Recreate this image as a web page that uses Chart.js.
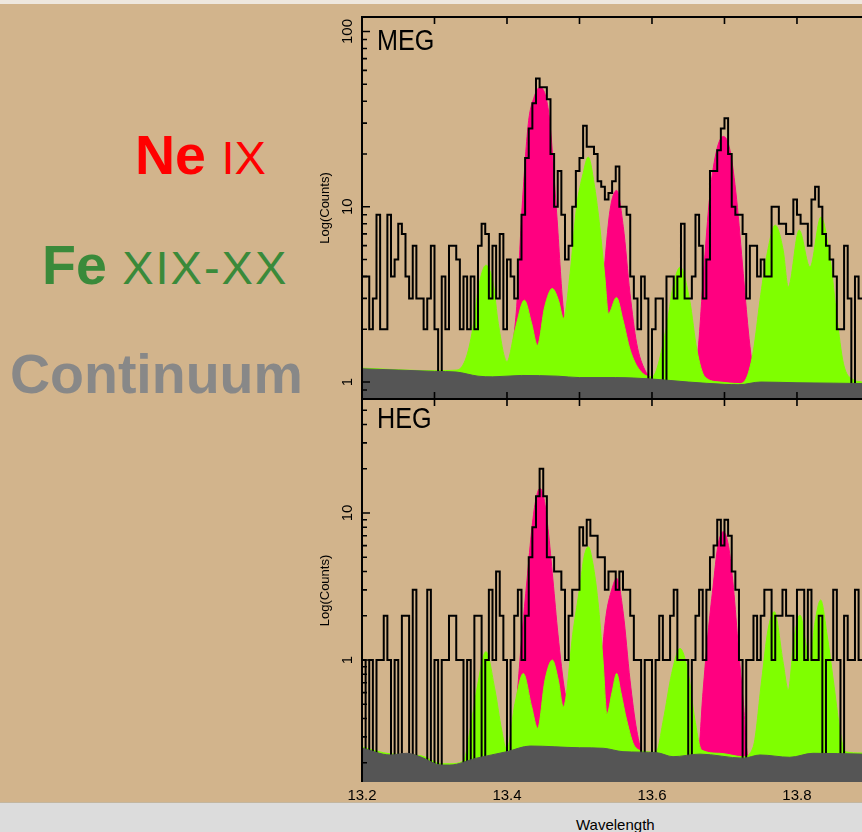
<!DOCTYPE html>
<html>
<head>
<meta charset="utf-8">
<script src="https://cdn.jsdelivr.net/npm/chart.js@4/dist/chart.umd.min.js"></script>
<style>
html, body { margin: 0; padding: 0; }
body { width: 862px; height: 832px; position: relative; overflow: hidden; background: #d2b48c; font-family: "Liberation Sans", Arial, sans-serif; }
#topline { position: absolute; left: 0; top: 0; width: 862px; height: 4px; background: #eee7de; }
canvas { position: absolute; }
#meg { left: 300px; top: 0; }
#heg { left: 300px; top: 395px; }
.panel { position: absolute; font-size: 30px; line-height: 1; color: #000; transform: scaleX(0.84); transform-origin: left top; }
.ion { position: absolute; white-space: nowrap; font-size: 55.5px; line-height: 1; }
.ion b { font-weight: bold; }
.ion span { font-size: 47px; font-weight: normal; }
#strip { position: absolute; left: 0; top: 802px; width: 862px; height: 30px; background: #dcdcdc; border-top: 1px solid #c3b69f; }
#xtitle { position: absolute; left: 576px; top: 817px; font-size: 15px; line-height: 1; color: #000; }
</style>
</head>
<body>
<div id="topline"></div>
<canvas id="meg" width="562" height="402"></canvas>
<canvas id="heg" width="562" height="408"></canvas>
<div class="panel" style="left:377px; top:25px;">MEG</div>
<div class="panel" style="left:377px; top:403px;">HEG</div>
<div class="ion" style="left:135px; top:128px; color:#ff0000;"><b>Ne</b> <span>IX</span></div>
<div class="ion" style="left:42px; top:238px; color:#3a8a3a;"><b>Fe</b> <span style="letter-spacing:2px;">XIX-XX</span></div>
<div class="ion" style="left:10px; top:347px; color:#888888;"><b>Continuum</b></div>
<div id="strip"></div>
<div id="xtitle">Wavelength</div>
<script>
// Binned counts, 0.005 A bins starting at 13.2 A
const binStart = 13.2;
const binWidth = 0.005;
const megCounts = [4,4,2,3,9,2,2,9,4,5,
  8,7,4,3,6,3,3,2,3,6,
  2,0,4,2,6,6,5,2,4,2,
  4,2,6,8,7,3,6,3,7,2,
  5,4,3,5,9,19,28,39,54,48,
  48,41,20,10,16,9,5,6,10,16,
  19,29,22,22,20,14,13,11,12,14,
  17,10,10,9,4,3,2,4,3,0,
  2,3,3,0,4,4,3,4,8,3,
  3,4,9,6,3,5,16,16,21,28,
  32,20,10,9,9,7,3,6,6,4,
  5,4,4,10,10,8,8,7,7,11,
  9,8,8,6,11,13,10,7,6,5,
  4,2,2,6,3,0,4,3,3];
const hegCounts = [1,0,1,0,1,1,2,1,0,1,
  0,2,2,0,3,0,0,0,3,0,
  1,0,1,1,2,2,1,1,0,1,
  0,2,2,0,1,3,1,4,2,1,
  0,1,2,3,1,2,5,8,13,20,
  13,5,5,4,4,3,1,2,3,3,
  8,6,9,7,7,5,5,3,4,4,
  3,4,3,3,2,1,1,0,1,1,
  0,1,2,1,1,2,3,1,1,1,
  0,1,2,3,1,3,5,6,9,6,
  9,7,4,3,1,0,1,1,2,1,
  2,3,3,1,2,2,3,2,2,1,
  3,3,1,3,1,1,2,0,1,1,
  3,1,0,2,1,1,3,1,1];

// MEG model components
const megContWl = [13.2, 13.25, 13.3, 13.33, 13.36, 13.38, 13.42, 13.47, 13.5, 13.55, 13.6, 13.65, 13.7, 13.72, 13.75, 13.8, 13.85, 13.89];
const megCont   = [1.19, 1.17, 1.15, 1.14, 1.08, 1.07, 1.09, 1.08, 1.06, 1.06, 1.04, 1.0, 0.97, 0.965, 1.0, 0.99, 0.985, 0.98];
const megFeWl = [13.2, 13.3, 13.331, 13.344, 13.354, 13.36, 13.371, 13.381, 13.388, 13.40, 13.411, 13.424, 13.434, 13.442, 13.452, 13.4625, 13.471, 13.478, 13.487, 13.496, 13.505, 13.512, 13.521, 13.528, 13.535, 13.540, 13.551, 13.560, 13.570, 13.583, 13.60, 13.620, 13.629, 13.639, 13.652, 13.662, 13.673, 13.694, 13.721, 13.731, 13.740, 13.749, 13.758, 13.770, 13.781, 13.788, 13.803, 13.818, 13.833, 13.846, 13.855, 13.864, 13.878, 13.89];
const megFe   = [1.2, 1.16, 1.17, 1.39, 2.16, 3.34, 4.64, 3.65, 2.16, 1.31, 1.98, 2.93, 2.16, 1.62, 2.69, 3.42, 2.93, 2.31, 4.16, 9.97, 15.5, 19.2, 12.9, 7.69, 3.98, 2.46, 3.04, 2.26, 1.52, 1.17, 1.07, 2.07, 3.49, 4.53, 2.93, 1.52, 1.07, 1.0, 0.98, 1.07, 1.52, 2.93, 5.18, 7.85, 5.65, 3.49, 7.36, 4.53, 8.74, 4.95, 2.36, 1.28, 1.03, 1.0];
const megNeWl = [13.2, 13.397, 13.404, 13.4134, 13.4203, 13.4294, 13.4372, 13.4455, 13.4538, 13.4593, 13.4686, 13.4777, 13.4869, 13.5076, 13.5214, 13.5283, 13.5352, 13.5421, 13.5513, 13.5604, 13.5697, 13.5789, 13.5903, 13.6041, 13.6524, 13.6634, 13.6708, 13.68, 13.6892, 13.6984, 13.7076, 13.7168, 13.7259, 13.7328, 13.7375, 13.7434, 13.89];
const megNe   = [0.95, 0.95, 1.3, 2.69, 9.1, 29.8, 42, 48, 42, 29.8, 9.1, 2.6, 1.6, 1.3, 1.5, 2.2, 4.95, 9.55, 12.4, 7.7, 3.2, 1.66, 1.17, 1.02, 0.95, 1.5, 3.98, 11.9, 21, 25.2, 21, 11.0, 4.16, 1.98, 1.33, 0.95, 0.93];

// HEG model components
const hegContWl = [13.2, 13.239, 13.262, 13.28, 13.31, 13.321, 13.358, 13.40, 13.432, 13.50, 13.533, 13.56, 13.607, 13.629, 13.666, 13.726, 13.749, 13.79, 13.822, 13.89];
const hegCont   = [0.252, 0.226, 0.232, 0.220, 0.193, 0.193, 0.215, 0.238, 0.26, 0.253, 0.251, 0.238, 0.234, 0.22, 0.229, 0.215, 0.226, 0.218, 0.232, 0.229];
const hegFeWl = [13.2, 13.239, 13.28, 13.31, 13.321, 13.3397, 13.349, 13.3582, 13.371, 13.3834, 13.3927, 13.3996, 13.411, 13.4225, 13.4341, 13.4423, 13.4524, 13.4625, 13.4708, 13.4777, 13.4914, 13.5007, 13.5062, 13.5121, 13.5186, 13.5255, 13.5324, 13.5379, 13.5448, 13.5513, 13.5572, 13.5651, 13.5766, 13.5927, 13.6055, 13.6156, 13.6272, 13.6386, 13.6501, 13.6593, 13.6686, 13.6938, 13.7255, 13.7397, 13.7513, 13.76, 13.7687, 13.7811, 13.788, 13.7959, 13.8041, 13.8179, 13.8248, 13.8327, 13.8414, 13.8501, 13.8593, 13.8662, 13.89];
const hegFe   = [0.256, 0.23, 0.224, 0.197, 0.197, 0.205, 0.334, 0.625, 1.14, 0.625, 0.334, 0.244, 0.507, 0.81, 0.48, 0.343, 0.73, 1.0, 0.73, 0.48, 1.6, 3.2, 5.0, 5.9, 4.5, 2.5, 1.0, 0.43, 0.6, 0.81, 0.6, 0.39, 0.257, 0.238, 0.236, 0.39, 0.81, 1.20, 0.81, 0.39, 0.244, 0.232, 0.22, 0.257, 0.73, 1.6, 2.13, 0.95, 0.625, 1.4, 2.02, 1.0, 1.8, 2.56, 1.5, 0.73, 0.334, 0.238, 0.233];
const hegNeWl = [13.2, 13.397, 13.411, 13.4207, 13.4276, 13.4345, 13.44, 13.4455, 13.451, 13.4566, 13.4634, 13.4703, 13.48, 13.4938, 13.5145, 13.5283, 13.5366, 13.5444, 13.5513, 13.5604, 13.5697, 13.5789, 13.588, 13.6386, 13.6634, 13.6703, 13.6772, 13.6841, 13.691, 13.6984, 13.7055, 13.7124, 13.7193, 13.7262, 13.7324, 13.89];
const hegNe   = [0.18, 0.2, 0.4, 1.5, 3.5, 8, 12.5, 14.7, 12.5, 7.85, 3.5, 1.5, 0.6, 0.35, 0.3, 0.8, 2.0, 3.0, 3.6, 2.08, 0.73, 0.334, 0.23, 0.2, 0.22, 0.6, 1.5, 3.1, 6.0, 7.46, 6.0, 3.1, 1.2, 0.5, 0.22, 0.2];

// axes
const xMin = 13.2, xMax = 13.8897;
const xLabels = [13.2, 13.4, 13.6, 13.8];
const xMarks = [13.3, 13.4, 13.5, 13.6, 13.7, 13.8];
const megLabels = [1, 10, 100];
const hegLabels = [1, 10];
const megRange = [0.8, 121];
const hegRange = [0.148, 59.6];

const COL_NE = '#ff0080', COL_FE = '#7fff00', COL_CONT = '#555555';

Chart.defaults.font.family = '"Liberation Sans", Arial, sans-serif';
Chart.defaults.color = '#000';

const zip = (xs, ys) => xs.map((x, i) => ({x: x, y: ys[i]}));
// zero-count bins drop below the axis (log scale cannot show 0)
const steps = counts => {
  const pts = counts.map((c, i) => ({x: binStart + binWidth * i, y: c > 0 ? c : 0.01}));
  const last = counts[counts.length - 1];
  pts.push({x: binStart + binWidth * counts.length, y: last > 0 ? last : 0.01});
  return pts;
};
const yMarks = [0.1, 1, 10, 100].flatMap(d => [1,2,3,4,5,6,7,8,9].map(m => +(d * m).toPrecision(3)));

const framePlugin = {
  id: 'frame',
  afterDatasetsDraw(chart, args, opts) {
    const {ctx, chartArea: a, scales: {x, y}} = chart;
    ctx.save();
    ctx.strokeStyle = '#000';
    ctx.lineWidth = 2;
    ctx.beginPath();
    ctx.moveTo(a.left, a.bottom);
    ctx.lineTo(a.left, a.top);
    ctx.lineTo(a.right + 2, a.top);
    if (opts.bottomLine) {
      ctx.moveTo(a.left, a.bottom);
      ctx.lineTo(a.right + 2, a.bottom);
    }
    ctx.stroke();
    ctx.lineWidth = 1.6;
    ctx.beginPath();
    yMarks.forEach(v => {
      const py = y.getPixelForValue(v);
      if (py < a.top + 1 || py > a.bottom - 1) return;
      const len = opts.majors.includes(v) ? 8 : 5;
      ctx.moveTo(a.left, py);
      ctx.lineTo(a.left + len, py);
    });
    xMarks.forEach(t => {
      const px = x.getPixelForValue(t);
      ctx.moveTo(px, a.top);
      ctx.lineTo(px, a.top + 7);
      if (opts.bottomLine) {
        ctx.moveTo(px, a.bottom);
        ctx.lineTo(px, a.bottom - 7);
      }
    });
    ctx.stroke();
    ctx.restore();
  }
};

function datasets(counts, neWl, ne, feWl, fe, contWl, cont) {
  const area = (data, color, order) => ({
    data: data, order: order, borderColor: color, backgroundColor: color,
    borderWidth: 1, pointRadius: 0, fill: 'start', cubicInterpolationMode: 'monotone'
  });
  return [
    area(zip(neWl, ne), COL_NE, 4),
    area(zip(feWl, fe), COL_FE, 3),
    { data: steps(counts), order: 2, stepped: true, borderColor: '#000', borderWidth: 2,
      pointRadius: 0, fill: false, borderJoinStyle: 'miter' },
    area(zip(contWl, cont), COL_CONT, 1)
  ];
}

function yAxis(range, labels, pad) {
  return {
    type: 'logarithmic', min: range[0], max: range[1],
    afterBuildTicks: s => { s.ticks = labels.map(v => ({value: v})); },
    afterFit: s => { s.width = 62; s.paddingTop = 0; s.paddingBottom = 0; },
    grid: { display: false, drawTicks: false },
    border: { display: false },
    ticks: { callback: v => String(v), minRotation: 90, maxRotation: 90, crossAlign: 'center',
             padding: pad, font: { size: 15 }, color: '#000' },
    title: { display: true, text: 'Log(Counts)', font: { size: 13 }, color: '#000', padding: { top: 18, bottom: 0 } }
  };
}

const megChart = new Chart(document.getElementById('meg').getContext('2d'), {
  type: 'line',
  data: { datasets: datasets(megCounts, megNeWl, megNe, megFeWl, megFe, megContWl, megCont) },
  options: {
    responsive: false, animation: false, devicePixelRatio: 1,
    layout: { padding: { top: 17, bottom: 3, left: 0, right: 0 } },
    scales: {
      x: { type: 'linear', min: xMin, max: xMax, display: false },
      y: yAxis(megRange, megLabels, 1.2)
    },
    plugins: { legend: { display: false }, tooltip: { enabled: false },
               frame: { bottomLine: true, majors: megLabels } }
  },
  plugins: [framePlugin]
});

const hegChart = new Chart(document.getElementById('heg').getContext('2d'), {
  type: 'line',
  data: { datasets: datasets(hegCounts, hegNeWl, hegNe, hegFeWl, hegFe, hegContWl, hegCont) },
  options: {
    responsive: false, animation: false, devicePixelRatio: 1,
    layout: { padding: { top: 4, bottom: 0, left: 0, right: 0 } },
    scales: {
      x: {
        type: 'linear', min: xMin, max: xMax,
        afterBuildTicks: s => { s.ticks = xLabels.map(v => ({value: v})); },
        afterFit: s => { s.height = 21; s.paddingLeft = 0; s.paddingRight = 0; },
        grid: { display: false, drawTicks: false },
        border: { display: false },
        ticks: { callback: v => v.toFixed(1), padding: 5, font: { size: 15 }, color: '#000', maxRotation: 0 }
      },
      y: yAxis(hegRange, hegLabels, 6)
    },
    plugins: { legend: { display: false }, tooltip: { enabled: false },
               frame: { bottomLine: false, majors: hegLabels } }
  },
  plugins: [framePlugin]
});
</script>
</body>
</html>
